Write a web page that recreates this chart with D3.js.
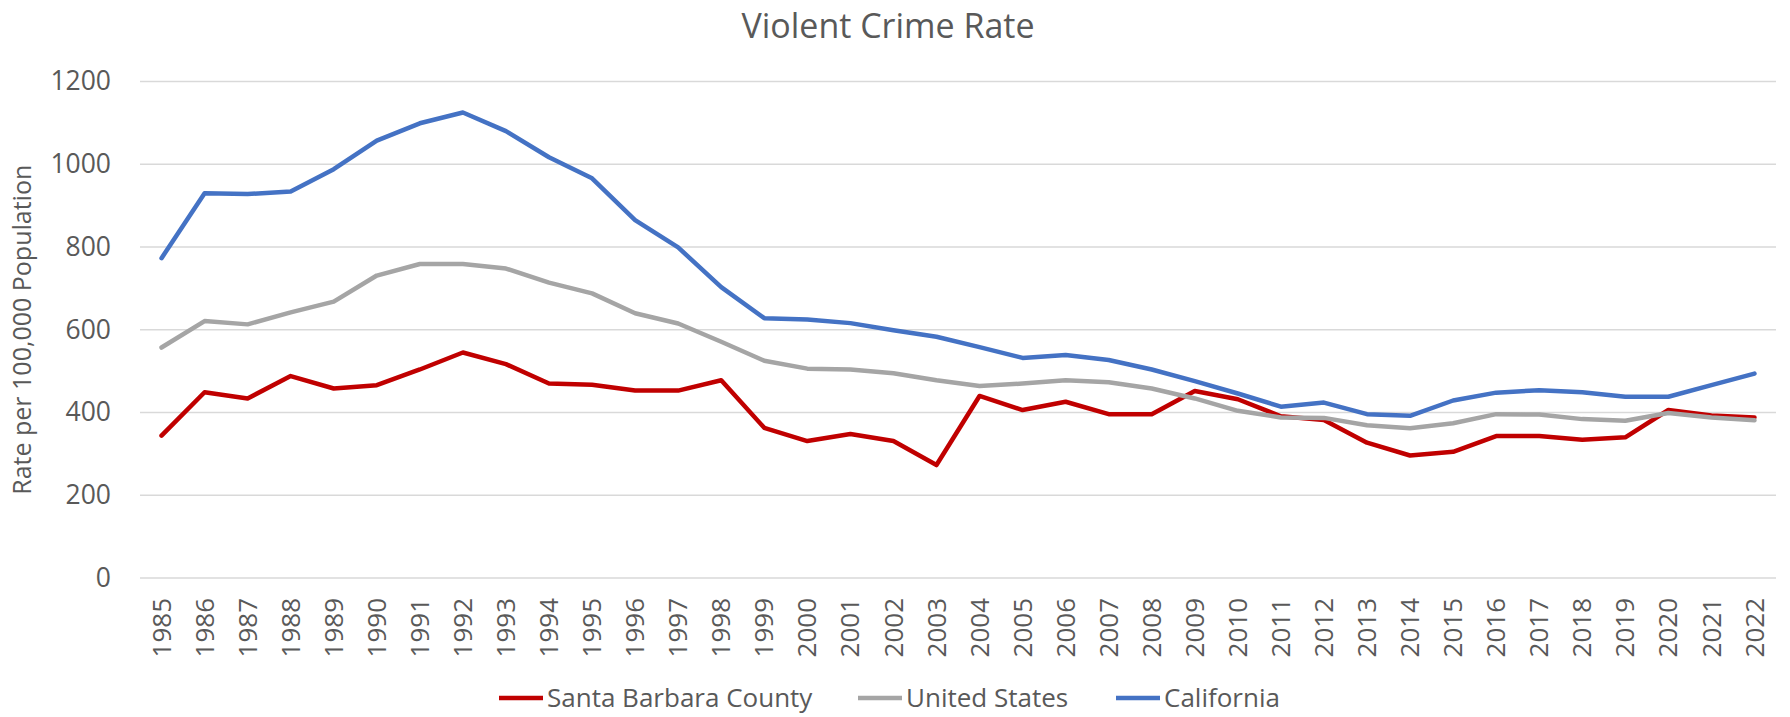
<!DOCTYPE html>
<html>
<head>
<meta charset="utf-8">
<script src="https://cdn.jsdelivr.net/npm/d3@7"></script>
<style>
  body { margin: 0; background: #fff; }
  svg text { font-family: "Open Sans", sans-serif; fill: #595959; }
</style>
</head>
<body>
<svg id="chart"></svg>
<script>
// years on the x axis
const years = d3.range(1985, 2023).map(String);

// violent crime rate per 100,000 population
const santaBarbara = [344, 449, 434, 488, 458, 466, 504, 545, 517, 470, 467, 453, 453, 478,
  363, 331, 348, 331, 273, 440, 406, 426, 396, 396, 452, 432, 391, 382, 327, 296, 305, 343,
  343, 334, 340, 406, 393, 388];
const unitedStates = [557, 621, 613, 642, 668, 731, 759, 759, 748, 714, 688, 640, 615, 571,
  525, 506, 504, 495, 478, 464, 470, 478, 473, 458, 434, 404, 388, 387, 369, 362, 374, 396,
  395, 384, 380, 399, 388, 381];
const california = [773, 930, 928, 934, 988, 1057, 1099, 1125, 1080, 1017, 966, 865, 799, 703,
  628, 625, 616, 599, 583, 558, 532, 539, 527, 504, 476, 446, 414, 424, 396, 392, 429, 448,
  454, 449, 438, 438, 466, 494];

const yTicks = [0, 200, 400, 600, 800, 1000, 1200];

const series = [
  { name: 'Santa Barbara County', values: santaBarbara, color: '#C00000' },
  { name: 'United States', values: unitedStates, color: '#A5A5A5' },
  { name: 'California', values: california, color: '#4472C4' }
];

const W = 1790, H = 717;
const margin = { top: 81.5, right: 14, bottom: 139, left: 140 },
  width = W - margin.left - margin.right,
  height = H - margin.top - margin.bottom;

const svg = d3.select('#chart').attr('width', W).attr('height', H);

// title
svg.append('text')
  .attr('x', 888)
  .attr('y', 38)
  .attr('text-anchor', 'middle')
  .attr('font-size', '34px')
  .text('Violent Crime Rate');

const g = svg.append('g')
  .attr('transform', 'translate(' + margin.left + ',' + margin.top + ')');

const x = d3.scaleBand().domain(years).range([0, width]);
const y = d3.scaleLinear().domain([0, 1200]).range([height, 0]);

// gridlines
g.append('g')
  .selectAll('line')
  .data(yTicks)
  .enter()
  .append('line')
  .attr('x1', 0)
  .attr('x2', width)
  .attr('y1', d => y(d))
  .attr('y2', d => y(d))
  .attr('stroke', '#D9D9D9')
  .attr('stroke-width', 1.4);

// y axis labels
const yAxis = g.append('g')
  .call(d3.axisLeft(y).tickValues(yTicks).tickFormat(d3.format('d')).tickSize(0).tickPadding(29));
yAxis.select('.domain').remove();
yAxis.selectAll('text')
  .attr('font-size', '26.5px')
  .attr('font-family', '"Open Sans", sans-serif')
  .attr('fill', '#595959');

// x axis labels, rotated
const xAxis = g.append('g')
  .attr('transform', 'translate(0,' + height + ')')
  .call(d3.axisBottom(x).tickSize(0));
xAxis.select('.domain').remove();
xAxis.selectAll('text')
  .attr('font-size', '26px')
  .attr('font-family', '"Open Sans", sans-serif')
  .attr('fill', '#595959')
  .attr('transform', 'rotate(-90)')
  .attr('x', -20)
  .attr('y', 0)
  .attr('dy', '0.35em')
  .style('text-anchor', 'end');

// lines
const line = d3.line()
  .x((d, i) => x(years[i]) + x.bandwidth() / 2)
  .y(d => y(d));

g.selectAll('path.series')
  .data(series)
  .enter()
  .append('path')
  .attr('class', 'series')
  .attr('d', d => line(d.values))
  .attr('fill', 'none')
  .attr('stroke', d => d.color)
  .attr('stroke-width', 4.5)
  .attr('stroke-linejoin', 'round')
  .attr('stroke-linecap', 'round');

// axis title
svg.append('text')
  .attr('transform', 'translate(31,' + (margin.top + height / 2) + ') rotate(-90)')
  .attr('text-anchor', 'middle')
  .attr('font-size', '25px')
  .text('Rate per 100,000 Population');

// legend
const legendX = [499, 858, 1116];
const legend = svg.append('g')
  .selectAll('g')
  .data(series)
  .enter()
  .append('g')
  .attr('transform', (d, i) => 'translate(' + legendX[i] + ',698)');
legend.append('line')
  .attr('x1', 0).attr('x2', 44)
  .attr('stroke', d => d.color)
  .attr('stroke-width', 4.5);
legend.append('text')
  .attr('x', 48)
  .attr('dy', '0.36em')
  .attr('font-size', '26px')
  .text(d => d.name);
</script>
</body>
</html>
